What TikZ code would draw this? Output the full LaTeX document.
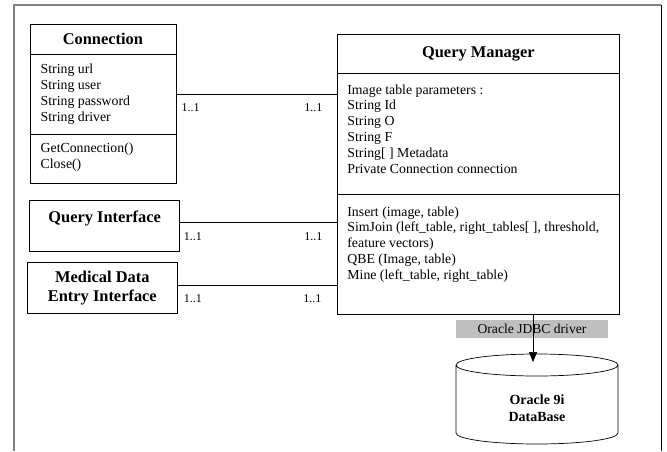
\documentclass[tikz,border=0pt]{standalone}
\usepackage{fontspec}
\setmainfont{Liberation Serif}
\usetikzlibrary{positioning,arrows.meta}

\tikzset{
  compart/.style={draw, rectangle, inner sep=0pt, anchor=north west, line width=0.7pt},
  members/.style={anchor=north west, inner sep=0pt, align=left, font=\fontsize{13.8}{15.8}\selectfont},
  classname/.style={font=\fontsize{16.4}{19}\selectfont\bfseries, align=center},
  mult/.style={inner sep=0pt, font=\fontsize{12}{14}\selectfont},
  assoc/.style={line width=0.7pt},
}

\begin{document}
\begin{tikzpicture}[x=1pt,y=-1pt]
\useasboundingbox (0,0) rectangle (667,451);
% outer frame
\draw[black!50, line width=1.2pt] (14,451) -- (14,5) -- (661,5);
\draw[line width=0.8pt] (661,5) -- (661,451);

% Connection class
\node[compart, classname, minimum width=146pt, minimum height=30.5pt] (conName) at (29.5,23.5) {Connection};
\node[compart, minimum width=146pt, minimum height=79.5pt] (conAttr) at (29.5,54) {};
\node[compart, minimum width=146pt, minimum height=49pt] (conMeth) at (29.5,133.5) {};
\node[members, below right=10pt and 11pt of conAttr.north west] (conAttrText) {String url\\String user\\String password\\String driver};
\node[members, below right=9pt and 11pt of conMeth.north west] (conMethText) {GetConnection()\\Close()};

% Query Manager class
\node[compart, classname, minimum width=282.6pt, minimum height=39.3pt] (qmName) at (336.7,34) {Query Manager};
\node[compart, minimum width=282.6pt, minimum height=121pt] (qmAttr) at (336.7,73.3) {};
\node[compart, minimum width=282.6pt, minimum height=120pt] (qmMeth) at (336.7,194.3) {};
\node[members, below right=11pt and 10.5pt of qmAttr.north west] (qmAttrText) {Image table parameters :\\String Id\\String O\\String F\\String[ ] Metadata\\Private Connection connection};
\node[members, below right=12pt and 10.5pt of qmMeth.north west] (qmMethText) {Insert (image, table)\\SimJoin (left\_table, right\_tables[ ], threshold,\\feature vectors)\\QBE (Image, table)\\Mine (left\_table, right\_table)};

% interfaces
\node[compart, minimum width=150pt, minimum height=51pt] (qi) at (29.3,200) {};
\node[classname, inner sep=0pt, below=11pt of qi.north] (qiText) {Query Interface};
\node[compart, classname, minimum width=150.6pt, minimum height=50.4pt] (mdi) at (26.7,262.3) {Medical Data\\Entry Interface};

% associations
\draw[assoc] (conAttr.east) -- (conAttr.east -| qmAttr.west)
  node[mult, pos=0, below right=9pt and 5pt] (conM1) {1..1}
  node[mult, pos=1, below left=9pt and 14pt] (conM2) {1..1};
\draw[assoc] ([yshift=3.8pt]qi.east) -- ([yshift=3.8pt]qi.east -| qmMeth.west)
  node[mult, pos=0, below right=10.5pt and 3.5pt] (qiM1) {1..1}
  node[mult, pos=1, below left=10pt and 14pt] (qiM2) {1..1};
\draw[assoc] ([yshift=3pt]mdi.east) -- ([yshift=3pt]mdi.east -| qmMeth.west)
  node[mult, pos=0, below right=9pt and 5.5pt] (mdiM1) {1..1}
  node[mult, pos=1, below left=9pt and 15pt] (mdiM2) {1..1};

% driver and database
\node[fill=black!25, minimum width=152pt, minimum height=18pt, inner sep=0pt, font=\fontsize{13.6}{16}\selectfont] (jdbc) at (532,329) {Oracle JDBC driver};
\draw[line width=0.7pt] (456,365) -- (456,433) arc[start angle=180, end angle=360, x radius=81pt, y radius=11pt]
  -- (618,365) arc[start angle=0, end angle=360, x radius=81pt, y radius=11pt];
\node[align=center, inner sep=0pt, font=\fontsize{14}{16.7}\selectfont\bfseries] (db) at (537,408) {Oracle 9i\\DataBase};
\coordinate (dbTop) at (533,362);
\draw[line width=0.7pt, -{Triangle[width=8pt,length=10pt]}] (qmMeth.south -| dbTop) -- (dbTop);
\end{tikzpicture}
\end{document}
